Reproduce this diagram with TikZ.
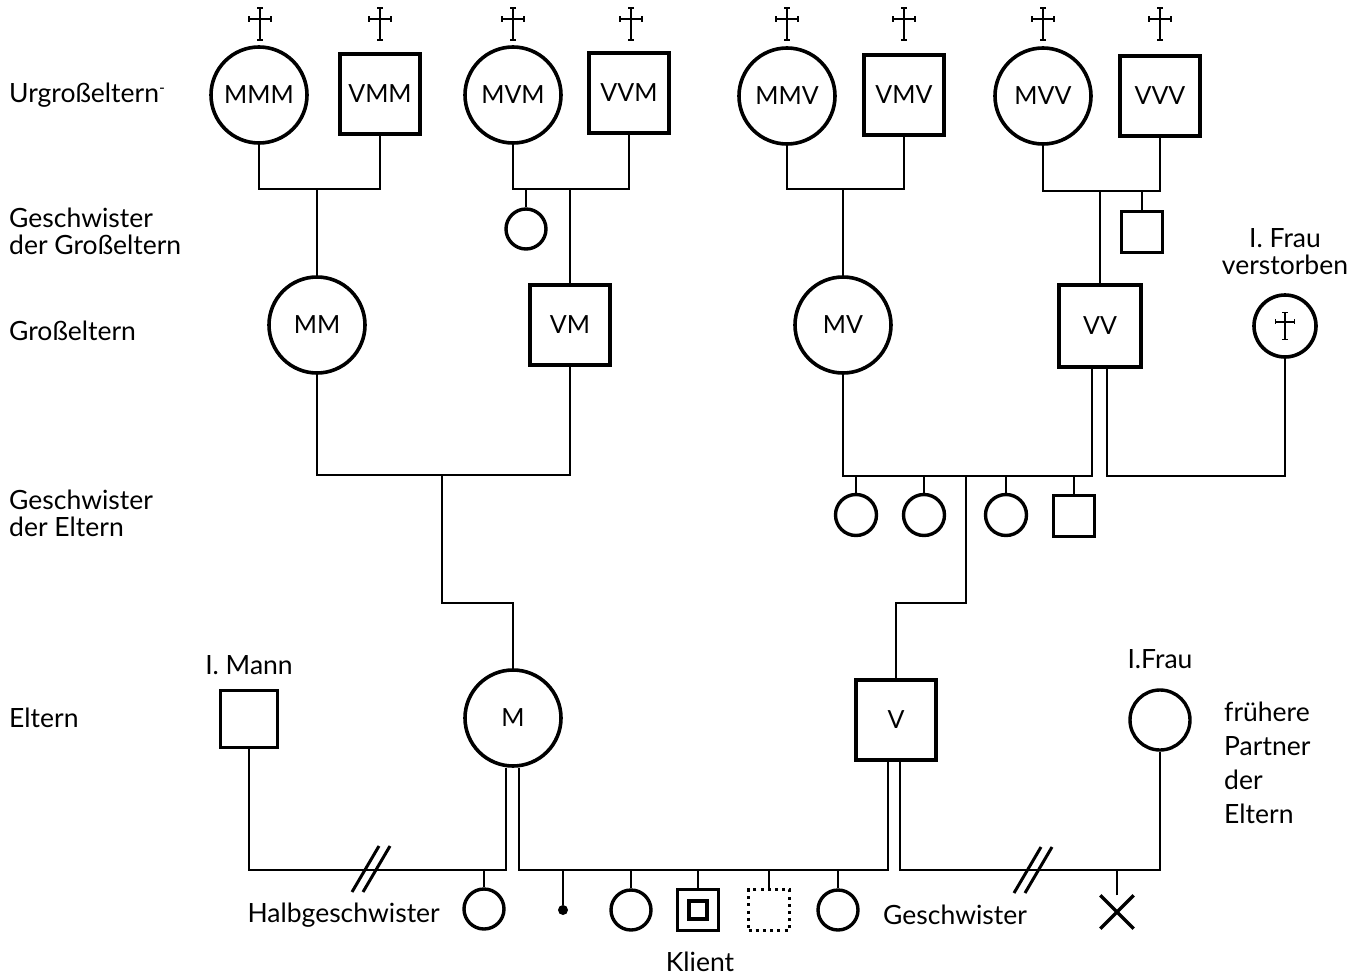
\documentclass[tikz,border=0pt]{standalone}
\usepackage{fontspec}
\setmainfont{Lato}
\usetikzlibrary{shapes.misc}
\newcommand{\mylab}{\fontsize{25}{30}\selectfont}
\newcommand{\mytxt}{\fontsize{26.5}{32}\selectfont}
\begin{document}
\begin{tikzpicture}[x=1pt,y=-1pt,
  fem/.style={circle,draw,line width=3.6pt,minimum size=96pt,inner sep=0pt,font=\mylab},
  mal/.style={rectangle,draw,line width=3.6pt,minimum size=80pt,inner sep=0pt,font=\mylab},
  femS/.style={circle,draw,line width=3.4pt,minimum size=40pt,inner sep=0pt},
  malS/.style={rectangle,draw,line width=3.4pt,minimum size=41pt,inner sep=0pt},
  con/.style={line width=1.3pt},
  txt/.style={font=\mytxt,inner sep=0pt},
  crux/.pic={\draw[line width=1.7pt] (0,-16)--(0,16) (-11,-5)--(11,-5);
             \draw[line width=1.3pt] (-3,-16)--(3,-16) (-3,16)--(3,16) (-11,-8)--(-11,-2) (11,-8)--(11,-2);},
  dslash/.pic={\draw[line width=3pt] (-19,23)--(8,-23) (-8,23)--(19,-23);}
]
\useasboundingbox (0,0) rectangle (1355,977);

% left labels
\node[txt,anchor=west] (L1) at (9,95) {Urgroßeltern\raisebox{0.35em}{\scalebox{0.6}{-}}};
\node[txt,anchor=west] (L2) at (9,218) {Geschwister};
\node[txt,anchor=west] (L3) at (9,245) {der Großeltern};
\node[txt,anchor=west] (L4) at (9,331) {Großeltern};
\node[txt,anchor=west] (L5) at (9,500) {Geschwister};
\node[txt,anchor=west] (L6) at (9,527) {der Eltern};
\node[txt,anchor=west] (L7) at (9,718) {Eltern};

% great-grandparents
\node[fem] (MMM) at (259,95) {MMM};
\node[mal] (VMM) at (380,94) {VMM};
\node[fem] (MVM) at (513,95) {MVM};
\node[mal] (VVM) at (629,93) {VVM};
\node[fem] (MMV) at (787,96) {MMV};
\node[mal] (VMV) at (904,95) {VMV};
\node[fem] (MVV) at (1043,96) {MVV};
\node[mal] (VVV) at (1160,96) {VVV};
\foreach \x in {260,380,513,631,787,904,1043,1160} \pic at (\x,24) {crux};

\coordinate (j1) at (317,189);
\coordinate (j2) at (570,189);
\coordinate (j3) at (843,189);
\coordinate (j4) at (1100,191);
\draw[con] (MMM.south) |- (j1) -| (VMM.south);
\draw[con] (MVM.south) |- (j2) -| (VVM.south);
\draw[con] (MMV.south) |- (j3) -| (VMV.south);
\draw[con] (MVV.south) |- (j4) -| (VVV.south);

% siblings of grandparents
\node[femS] (GS1) at (526,229) {};
\node[malS] (GS2) at (1142,232) {};
\draw[con] (GS1.north) -- (GS1 |- j2);
\draw[con] (GS2.north) -- (GS2 |- j4);

% grandparents
\node[fem] (MM) at (317,325) {MM};
\node[mal] (VM) at (570,325) {VM};
\node[fem] (MV) at (843,325) {MV};
\node[mal,minimum size=82pt] (VV) at (1100,326) {VV};
\node[circle,draw,line width=3.6pt,minimum size=62pt,inner sep=0pt] (F1) at (1285,326) {};
\pic[scale=0.85] at (F1) {crux};
\node[txt] (F1a) at (1285,238) {I. Frau};
\node[txt] (F1b) at (1285,265) {verstorben};
\draw[con] (j1) -- (MM.north);
\draw[con] (j2) -- (VM.north);
\draw[con] (j3) -- (MV.north);
\draw[con] (j4) -- (VV.north);

% parents
\node[rectangle,draw,line width=3.4pt,minimum size=57pt,inner sep=0pt] (IM) at (249,719) {};
\node[txt] (IMl) at (249,665) {I. Mann};
\node[fem] (M) at (513,718) {M};
\node[mal] (V) at (896,720) {V};
\node[circle,draw,line width=3.4pt,minimum size=60pt,inner sep=0pt] (F2) at (1160,720) {};
\node[txt] (F2l) at (1160,659) {I.Frau};
\node[txt,anchor=west] (P1) at (1224,712) {frühere};
\node[txt,anchor=west] (P2) at (1224,746) {Partner};
\node[txt,anchor=west] (P3) at (1224,780) {der};
\node[txt,anchor=west] (P4) at (1224,814) {Eltern};

\coordinate (j5) at (442,475);
\coordinate (k5) at (513,603);
\coordinate (j6) at (966,476);
\coordinate (j7) at (1200,476);
\coordinate (k6) at (896,603);
\draw[con] (MM.south) |- (j5) -| (VM.south);
\draw[con] (j5) |- (k5) -- (M.north);
\draw[con] (MV.south) |- (j6) -| ([xshift=-8pt]VV.south);
\draw[con] ([xshift=7pt]VV.south) |- (j7) -| (F1.south);
\draw[con] (j6) |- (k6) -- (V.north);

% siblings of parents
\node[femS,minimum size=41pt] (PS1) at (856,515) {};
\node[femS,minimum size=41pt] (PS2) at (924,515) {};
\node[femS,minimum size=41pt] (PS3) at (1006,515) {};
\node[malS] (PS4) at (1074,516) {};
\foreach \n in {PS1,PS2,PS3,PS4} \draw[con] (\n.north) -- (\n |- j6);

% bottom lines
\coordinate (b1) at (506,870);
\coordinate (b2) at (519,870);
\coordinate (b3) at (888,870);
\coordinate (b4) at (900,870);
\draw[con] (IM.south) |- (b1) -- (b1 |- M.south);
\draw[con] (b2 |- M.south) -- (b2) -- (b3) -- (b3 |- V.south);
\draw[con] (b4 |- V.south) -- (b4) -| (F2.south);
\pic at (371,869) {dslash};
\pic at (1033,870) {dslash};

% children
\node[femS] (HS) at (484,909) {};
\node[circle,fill,inner sep=0pt,minimum size=10pt] (K1) at (563,910) {};
\node[femS] (K2) at (631,910) {};
\node[malS] (KL) at (698,910) {};
\node[rectangle,draw,line width=3.4pt,minimum size=18pt,inner sep=0pt] (KLi) at (KL) {};
\node[rectangle,draw,line width=3.4pt,dash pattern=on 3pt off 4.2pt,minimum size=41pt,inner sep=0pt] (K4) at (769,910) {};
\node[femS] (K5) at (838,910) {};
\node[cross out,draw,line width=3.4pt,minimum size=30pt,inner sep=0pt] (K6) at (1117,912) {};
\draw[con] (HS.north) -- (HS |- b1);
\draw[con] (K1) -- (K1 |- b2);
\foreach \n in {K2,KL,K4,K5} \draw[con] (\n.north) -- (\n |- b2);
\draw[con] (K6.north) -- (K6 |- b4);

\node[txt,anchor=east] (T1) at (440,915) {Halbgeschwister};
\node[txt] (T2) at (700,962) {Klient};
\node[txt,anchor=west] (T3) at (883,915) {Geschwister};
\end{tikzpicture}
\end{document}
